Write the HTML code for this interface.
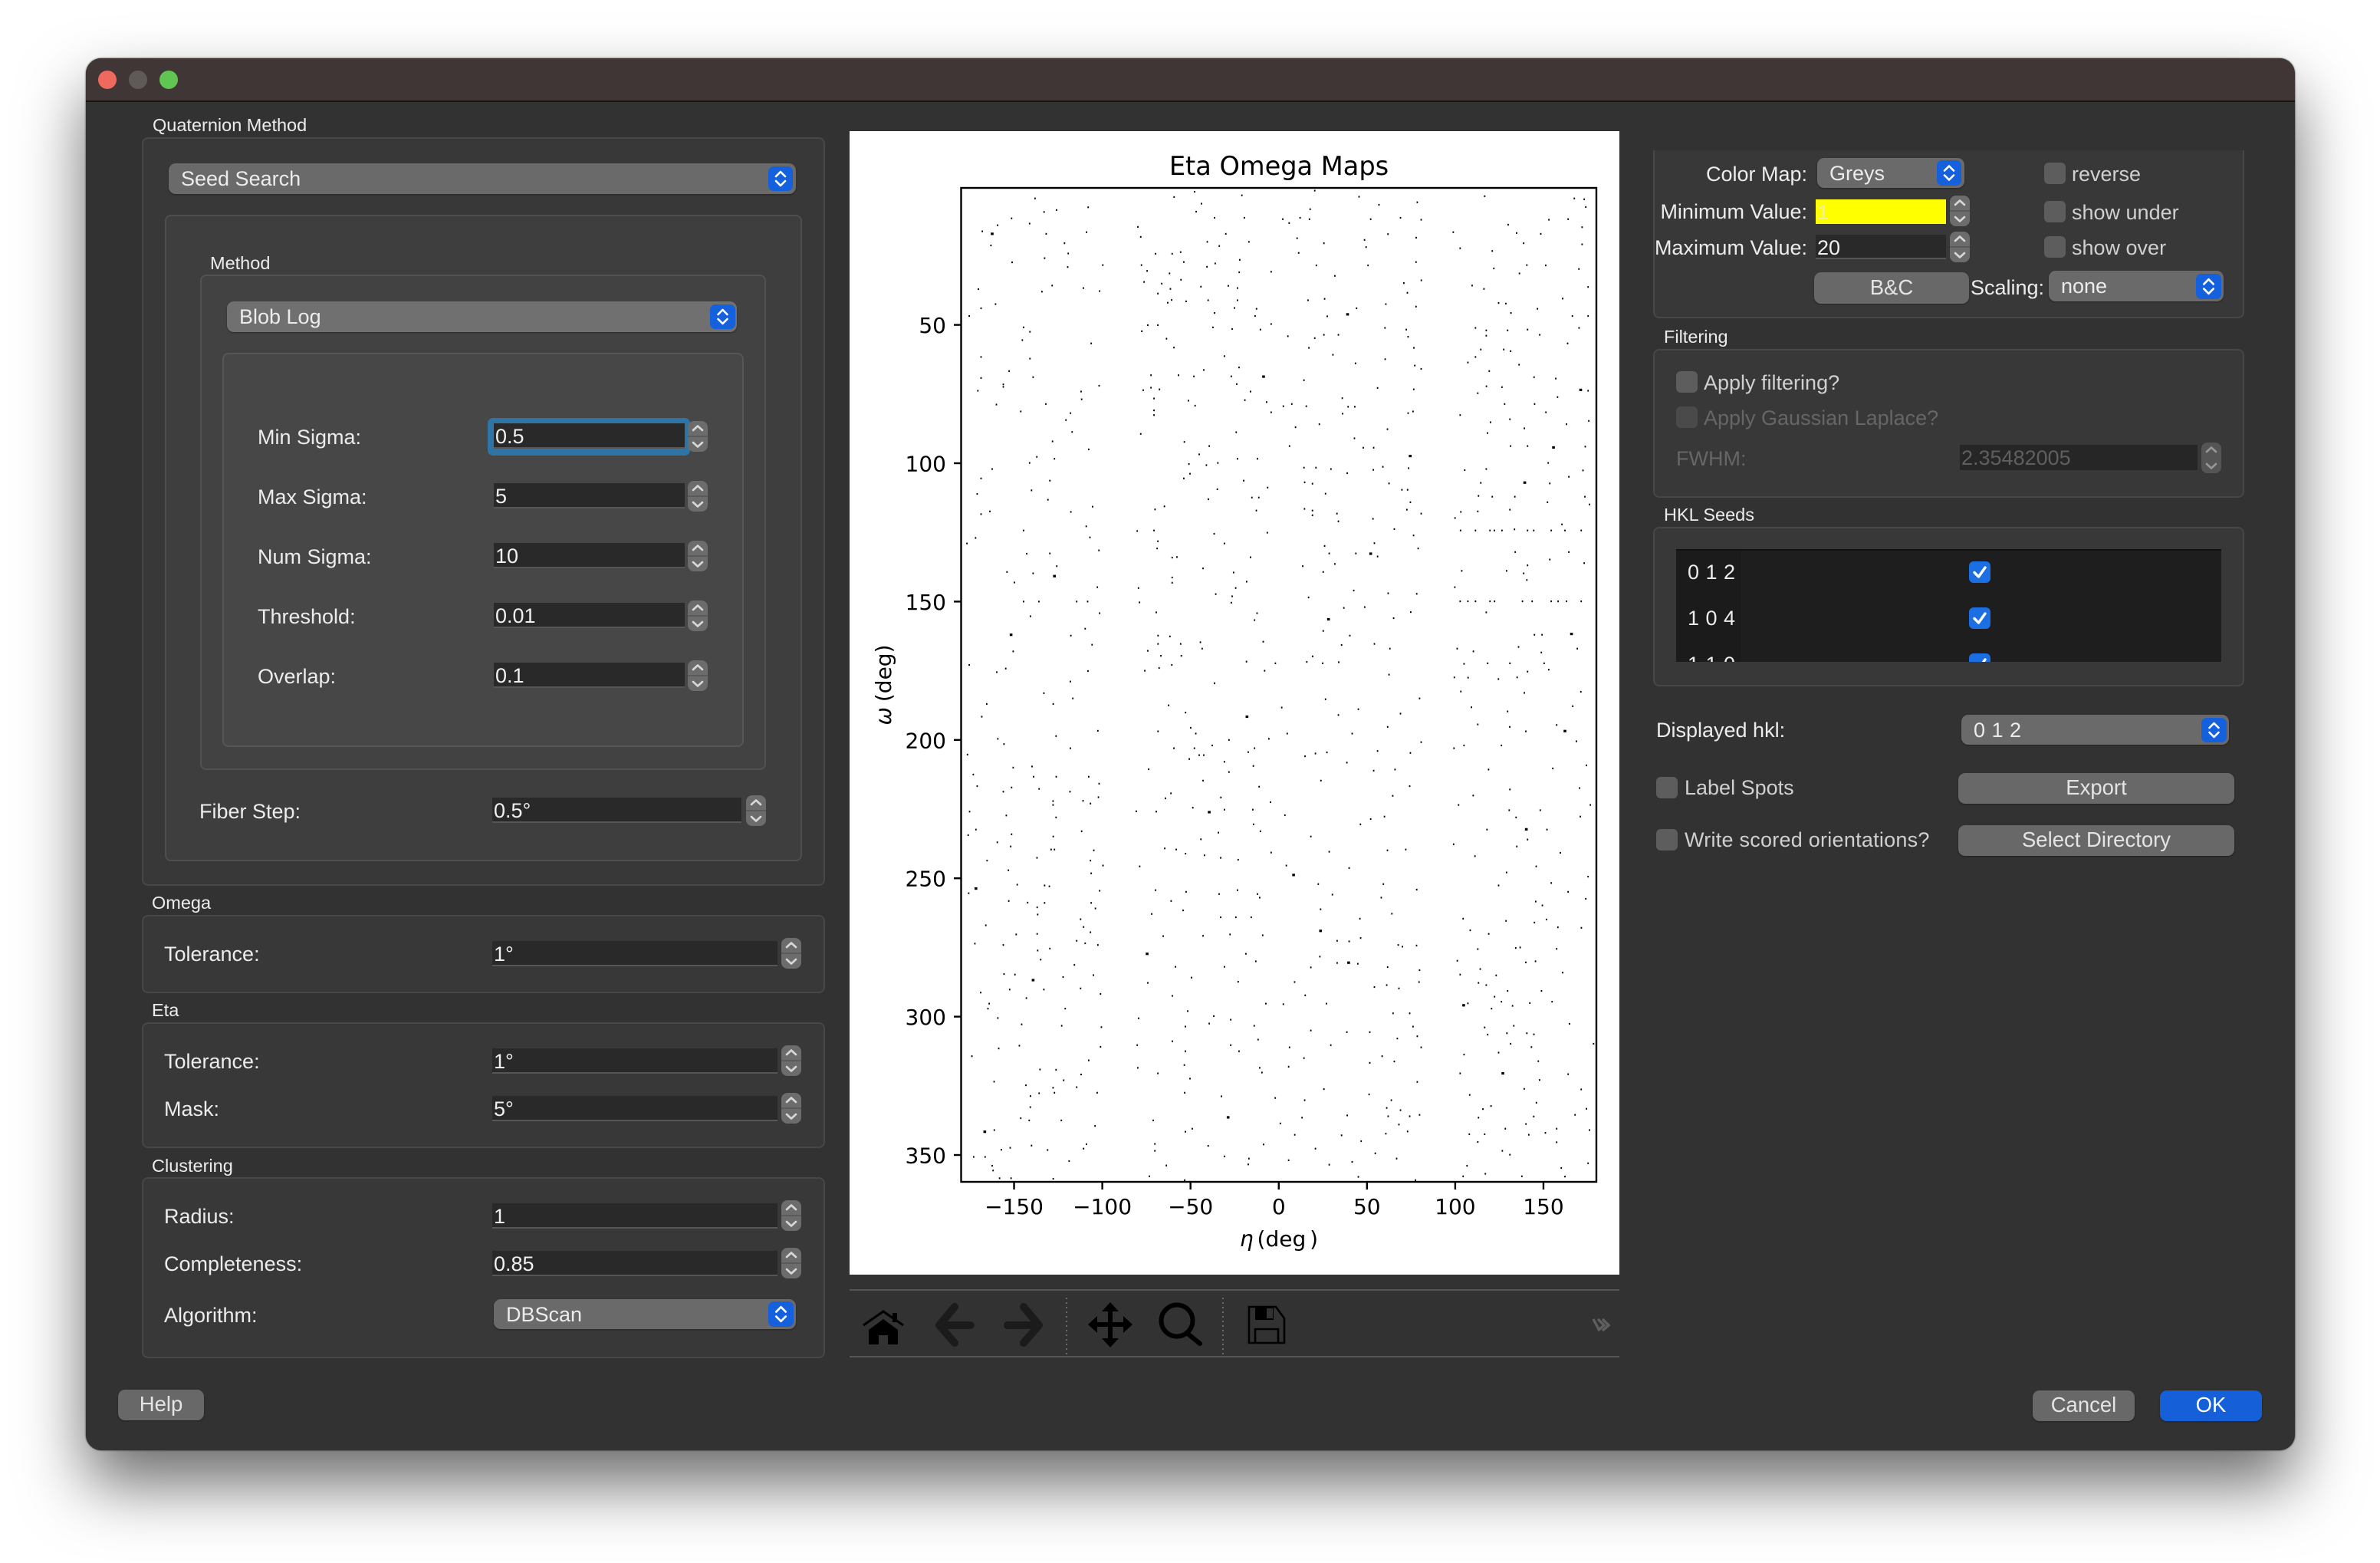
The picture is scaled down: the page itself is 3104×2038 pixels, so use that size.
<!DOCTYPE html>
<html lang="en">
<head>
<meta charset="utf-8">
<title>Eta Omega Maps dialog</title>
<style>
html,body{margin:0;padding:0;background:#fff;width:3104px;height:2038px;overflow:hidden}
body{font-family:"Liberation Sans",sans-serif;color:#ececec;position:relative}
#win{position:absolute;left:112px;top:76px;width:2881px;height:1815px;background:#323232;border-radius:20px;box-shadow:0 44px 85px rgba(0,0,0,.58),0 0 2px rgba(0,0,0,.8);overflow:hidden}
#root{position:absolute;left:0;top:0;width:3104px;height:2038px}
.a{position:absolute;box-sizing:border-box}
.lab{position:absolute;font-size:27px;line-height:34px;white-space:nowrap;transform:translateY(-50%);color:#ececec}
.r{transform:translate(-100%,-50%)}
.gt{position:absolute;font-size:23.5px;line-height:30px;white-space:nowrap;transform:translateY(-50%);color:#ececec}
.dim{color:#666}
.soft{color:#d0d0d0}
.box{position:absolute;box-sizing:border-box;border:2px solid #474747;border-radius:8px;background:#383838}
.b2{background:#3e3e3e;border-color:#4e4e4e}
.b3{background:#424242;border-color:#525252}
.b4{background:#474747;border-color:#565656}
.inp{position:absolute;box-sizing:border-box;background:#292929;border-bottom:2px solid #565656;font-size:27px;line-height:34px;padding-left:2px;color:#f0f0f0;overflow:hidden}
.spin{position:absolute;width:26px;height:40px;background:#6c6c6c;border-radius:8px}
.spin svg,.blue svg{position:absolute;left:0;top:0;width:100%;height:100%}
.combo{position:absolute;box-sizing:border-box;background:#6a6a6a;border-radius:9px;font-size:27px;color:#ececec;display:flex;align-items:center;box-shadow:0 1px 2px rgba(0,0,0,.35);padding-top:1px}
.blue{position:absolute;background:#1560dc;border-radius:7px}
.btn{position:absolute;box-sizing:border-box;background:#686868;border-radius:9px;font-size:27.5px;color:#e4e4e4;display:flex;align-items:center;justify-content:center;box-shadow:0 1px 2px rgba(0,0,0,.35);padding-bottom:2px}
.chk{position:absolute;width:28px;height:28px;background:#5d5d5d;border-radius:6px}
.chk.off{background:#4a4a4a}
.chk.on{background:#1b6fe2}
.chk.on svg{position:absolute;left:0;top:0;width:100%;height:100%}
</style>
</head>
<body>
<div id="win"></div>
<div id="root">
<svg width="0" height="0" style="position:absolute"><defs>
<symbol id="updn" viewBox="0 0 32 32"><path d="M10 13 L16 7 L22 13 M10 19 L16 25 L22 19" fill="none" stroke="#fff" stroke-width="2.6" stroke-linecap="round" stroke-linejoin="round"/></symbol>
<symbol id="sp" viewBox="0 0 26 40"><path d="M0 20H26" stroke="#555" stroke-width="1.5"/><path d="M7 12 L13 6.5 L19 12 M7 28 L13 33.5 L19 28" fill="none" stroke="#d8d8d8" stroke-width="2.6" stroke-linecap="round" stroke-linejoin="round"/></symbol>
<symbol id="tick" viewBox="0 0 28 28"><path d="M7 14.5 L12.5 20 L21 8" fill="none" stroke="#fff" stroke-width="3.4" stroke-linecap="round" stroke-linejoin="round"/></symbol>
</defs></svg>

<!-- title bar -->
<div class="a" style="left:112px;top:76px;width:2881px;height:57px;background:#403635;border-bottom:2px solid #151515;border-radius:20px 20px 0 0"></div>
<div class="a" style="left:128px;top:92px;width:24px;height:24px;border-radius:50%;background:#ee6a5e"></div>
<div class="a" style="left:168px;top:92px;width:24px;height:24px;border-radius:50%;background:#5f5a58"></div>
<div class="a" style="left:208px;top:92px;width:24px;height:24px;border-radius:50%;background:#61c554"></div>

<!-- quaternion method group -->
<div class="gt" style="left:199px;top:163px">Quaternion Method</div>
<div class="box" style="left:185px;top:179px;width:891px;height:976px"></div>
<div class="combo" style="left:220px;top:213px;width:818px;height:40px;padding-left:16px">Seed Search</div>
<div class="blue" style="left:1002px;top:217px;width:32px;height:32px"><svg><use href="#updn"/></svg></div>
<div class="box b2" style="left:215px;top:280px;width:831px;height:843px"></div>
<div class="gt" style="left:274px;top:343px">Method</div>
<div class="box b3" style="left:261px;top:358px;width:738px;height:646px"></div>
<div class="combo" style="left:296px;top:393px;width:665px;height:40px;padding-left:16px;background:#707070">Blob Log</div>
<div class="blue" style="left:926px;top:397px;width:33px;height:32px"><svg><use href="#updn"/></svg></div>
<div class="box b4" style="left:290px;top:460px;width:680px;height:514px"></div>

<div class="lab" style="left:336px;top:570px">Min Sigma:</div>
<div class="a" style="left:636px;top:545px;width:264px;height:49px;background:#2f74a4;border-radius:7px"></div>
<div class="inp" style="left:644px;top:552px;width:249px;height:33px">0.5</div>
<div class="spin" style="left:897px;top:549px"><svg><use href="#sp"/></svg></div>

<div class="lab" style="left:336px;top:648px">Max Sigma:</div>
<div class="inp" style="left:644px;top:630px;width:249px;height:33px">5</div>
<div class="spin" style="left:897px;top:627px"><svg><use href="#sp"/></svg></div>

<div class="lab" style="left:336px;top:726px">Num Sigma:</div>
<div class="inp" style="left:644px;top:708px;width:249px;height:33px">10</div>
<div class="spin" style="left:897px;top:705px"><svg><use href="#sp"/></svg></div>

<div class="lab" style="left:336px;top:804px">Threshold:</div>
<div class="inp" style="left:644px;top:786px;width:249px;height:33px">0.01</div>
<div class="spin" style="left:897px;top:783px"><svg><use href="#sp"/></svg></div>

<div class="lab" style="left:336px;top:882px">Overlap:</div>
<div class="inp" style="left:644px;top:864px;width:249px;height:33px">0.1</div>
<div class="spin" style="left:897px;top:861px"><svg><use href="#sp"/></svg></div>

<div class="lab" style="left:260px;top:1058px">Fiber Step:</div>
<div class="inp" style="left:642px;top:1040px;width:325px;height:33px">0.5°</div>
<div class="spin" style="left:973px;top:1037px"><svg><use href="#sp"/></svg></div>

<!-- omega -->
<div class="gt" style="left:198px;top:1177px">Omega</div>
<div class="box" style="left:185px;top:1193px;width:891px;height:102px"></div>
<div class="lab" style="left:214px;top:1244px">Tolerance:</div>
<div class="inp" style="left:642px;top:1227px;width:372px;height:33px">1°</div>
<div class="spin" style="left:1019px;top:1223px"><svg><use href="#sp"/></svg></div>

<!-- eta -->
<div class="gt" style="left:198px;top:1317px">Eta</div>
<div class="box" style="left:185px;top:1333px;width:891px;height:164px"></div>
<div class="lab" style="left:214px;top:1384px">Tolerance:</div>
<div class="inp" style="left:642px;top:1367px;width:372px;height:33px">1°</div>
<div class="spin" style="left:1019px;top:1363px"><svg><use href="#sp"/></svg></div>
<div class="lab" style="left:214px;top:1446px">Mask:</div>
<div class="inp" style="left:642px;top:1429px;width:372px;height:33px">5°</div>
<div class="spin" style="left:1019px;top:1425px"><svg><use href="#sp"/></svg></div>

<!-- clustering -->
<div class="gt" style="left:198px;top:1520px">Clustering</div>
<div class="box" style="left:185px;top:1535px;width:891px;height:236px"></div>
<div class="lab" style="left:214px;top:1586px">Radius:</div>
<div class="inp" style="left:642px;top:1569px;width:372px;height:33px">1</div>
<div class="spin" style="left:1019px;top:1565px"><svg><use href="#sp"/></svg></div>
<div class="lab" style="left:214px;top:1648px">Completeness:</div>
<div class="inp" style="left:642px;top:1631px;width:372px;height:33px">0.85</div>
<div class="spin" style="left:1019px;top:1627px"><svg><use href="#sp"/></svg></div>
<div class="lab" style="left:214px;top:1715px">Algorithm:</div>
<div class="combo" style="left:644px;top:1694px;width:394px;height:39px;padding-left:16px">DBScan</div>
<div class="blue" style="left:1002px;top:1697px;width:33px;height:33px"><svg><use href="#updn"/></svg></div>

<div class="btn" style="left:154px;top:1812px;width:112px;height:40px">Help</div>

<!-- chart -->
<svg id="chart" class="a" style="left:1108px;top:171px" width="1004" height="1491" viewBox="1108 171 1004 1491">
<rect x="1108" y="171" width="1004" height="1491" fill="#fff"/>
<text x="1668" y="228" text-anchor="middle" font-family="'DejaVu Sans',sans-serif" font-size="33.6" fill="#000">Eta Omega Maps</text>
<g id="spots"></g>
<g id="ticks"></g>
<rect x="1253.5" y="245" width="828.5" height="1296" fill="none" stroke="#000" stroke-width="2.4"/>
<text x="1668" y="1625" text-anchor="middle" word-spacing="-4" font-family="'DejaVu Sans',sans-serif" font-size="28" fill="#000"><tspan font-style="italic">η</tspan> (deg )</text>
<text transform="translate(1162,893) rotate(-90)" text-anchor="middle" word-spacing="-2" font-family="'DejaVu Sans',sans-serif" font-size="28" fill="#000"><tspan font-style="italic">ω</tspan> (deg)</text>
</svg>

<!-- toolbar -->
<svg class="a" style="left:1108px;top:1680px" width="1004" height="92" viewBox="1108 1680 1004 92">
<path d="M1108 1682H2112M1108 1769H2112" stroke="#555" stroke-width="2"/>
<path d="M1391 1692V1767M1595 1692V1767" stroke="#6a6a6a" stroke-width="2" stroke-dasharray="2 4"/>
<g><path d="M1126 1728 L1152 1710 L1178 1728" fill="none" stroke="#000" stroke-width="3"/><path d="M1133 1734 L1152 1720 L1171 1734 V1753 H1158 V1741 H1146 V1753 H1133Z M1164 1712 h6 v12 h-6z" fill="#000"/></g>
<path d="M1245 1704 L1225 1728 L1245 1751 M1227 1728 H1266" fill="none" stroke="#1b1b1b" stroke-width="10" stroke-linejoin="round" stroke-linecap="round"/>
<path d="M1335 1704 L1355 1728 L1335 1751 M1353 1728 H1314" fill="none" stroke="#1b1b1b" stroke-width="10" stroke-linejoin="round" stroke-linecap="round"/>
<g><path d="M1448 1706V1750M1427 1727H1469" stroke="#000" stroke-width="6"/><path d="M1448 1698l11 12h-22zM1448 1757l11-12h-22zM1419 1727l12-11v22zM1477 1727l-12-11v22z" fill="#000"/></g>
<g><circle cx="1535" cy="1722" r="20.5" fill="none" stroke="#000" stroke-width="6"/><path d="M1549 1739 L1565 1752" stroke="#000" stroke-width="6" stroke-linecap="round"/></g>
<g><path d="M1629 1704H1664L1675 1719V1751H1629Z M1637 1751V1733H1667V1751" fill="none" stroke="#000" stroke-width="2.6"/><path d="M1637 1704H1661V1721H1637Z" fill="#000"/><rect x="1652" y="1706" width="8" height="13" fill="#323232"/></g>
<path d="M2078 1720 L2086 1735 M2084 1720 L2092 1728 L2084 1735 M2090 1720 L2098 1728 L2090 1735" fill="none" stroke="#5f5f5f" stroke-width="3.4"/>
</svg>

<!-- right column: display options -->
<div class="a" style="left:2156px;top:196px;width:771px;height:219px;background:#383838;border:2px solid #474747;border-top:none;border-radius:0 0 8px 8px"></div>
<div class="lab r" style="left:2357px;top:227px">Color Map:</div>
<div class="combo soft" style="left:2370px;top:206px;width:192px;height:39px;padding-left:16px">Greys</div>
<div class="blue" style="left:2526px;top:209px;width:32px;height:33px"><svg><use href="#updn"/></svg></div>
<div class="chk" style="left:2666px;top:212px"></div>
<div class="lab soft" style="left:2702px;top:227px">reverse</div>

<div class="lab r" style="left:2357px;top:276px">Minimum Value:</div>
<div class="inp" style="left:2368px;top:260px;width:170px;height:32px;background:#ff0;border:none;color:#f0f0a0">1</div>
<div class="spin" style="left:2543px;top:255px"><svg><use href="#sp"/></svg></div>
<div class="chk" style="left:2666px;top:262px"></div>
<div class="lab soft" style="left:2702px;top:277px">show under</div>

<div class="lab r" style="left:2357px;top:323px">Maximum Value:</div>
<div class="inp" style="left:2368px;top:306px;width:170px;height:32px">20</div>
<div class="spin" style="left:2543px;top:302px"><svg><use href="#sp"/></svg></div>
<div class="chk" style="left:2666px;top:308px"></div>
<div class="lab soft" style="left:2702px;top:323px">show over</div>

<div class="btn" style="left:2366px;top:355px;width:202px;height:41px">B&amp;C</div>
<div class="lab" style="left:2570px;top:375px">Scaling:</div>
<div class="combo" style="left:2672px;top:353px;width:228px;height:40px;padding-left:16px">none</div>
<div class="blue" style="left:2864px;top:357px;width:33px;height:33px"><svg><use href="#updn"/></svg></div>

<!-- filtering -->
<div class="gt" style="left:2170px;top:439px">Filtering</div>
<div class="box" style="left:2156px;top:455px;width:771px;height:194px"></div>
<div class="chk" style="left:2186px;top:484px"></div>
<div class="lab soft" style="left:2222px;top:499px">Apply filtering?</div>
<div class="chk off" style="left:2186px;top:530px"></div>
<div class="lab dim" style="left:2222px;top:545px">Apply Gaussian Laplace?</div>
<div class="lab dim" style="left:2186px;top:598px">FWHM:</div>
<div class="inp" style="left:2556px;top:580px;width:310px;height:33px;color:#5f5f5f;border-bottom:none;background:#262626">2.35482005</div>
<div class="spin" style="left:2871px;top:577px;background:#555"><svg style="opacity:.5"><use href="#sp"/></svg></div>

<!-- hkl seeds -->
<div class="gt" style="left:2170px;top:671px">HKL Seeds</div>
<div class="box" style="left:2156px;top:687px;width:771px;height:208px"></div>
<div class="a" style="left:2186px;top:716px;width:711px;height:147px;background:#1e1e1e;border-top:2px solid #111;overflow:hidden">
<div class="a" style="left:0;top:0;width:85px;height:147px;background:#1b1b1b"></div>
<div class="lab" style="left:15px;top:28px;letter-spacing:.5px">0 1 2</div>
<div class="lab" style="left:15px;top:88px;letter-spacing:.5px">1 0 4</div>
<div class="lab" style="left:15px;top:148px;letter-spacing:.5px">1 1 0</div>
<div class="chk on" style="left:382px;top:14px"><svg><use href="#tick"/></svg></div>
<div class="chk on" style="left:382px;top:74px"><svg><use href="#tick"/></svg></div>
<div class="chk on" style="left:382px;top:134px"><svg><use href="#tick"/></svg></div>
</div>

<div class="lab" style="left:2160px;top:952px">Displayed hkl:</div>
<div class="combo soft" style="left:2558px;top:932px;width:349px;height:39px;padding-left:16px;letter-spacing:.5px">0 1 2</div>
<div class="blue" style="left:2871px;top:936px;width:33px;height:32px"><svg><use href="#updn"/></svg></div>

<div class="chk" style="left:2160px;top:1013px"></div>
<div class="lab soft" style="left:2197px;top:1027px">Label Spots</div>
<div class="btn" style="left:2554px;top:1008px;width:360px;height:40px">Export</div>
<div class="chk" style="left:2160px;top:1081px"></div>
<div class="lab soft" style="left:2197px;top:1095px;letter-spacing:.25px">Write scored orientations?</div>
<div class="btn" style="left:2554px;top:1076px;width:360px;height:40px">Select Directory</div>

<div class="btn" style="left:2651px;top:1813px;width:133px;height:40px">Cancel</div>
<div class="btn" style="left:2817px;top:1813px;width:133px;height:40px;background:#1560d8;color:#fff">OK</div>
</div>

<script>
const xTicks = [-150, -100, -50, 0, 50, 100, 150];
const yTicks = [50, 100, 150, 200, 250, 300, 350];
const etaDeg = [
-138.1,-151.4,-162.4,-159.3,-168,-163.1,-132.7,-108.9,-133,-125.9,-108,-141.2,-131.8,-121.4,-119.3,-119.6,-99.7,-151.1,-168.7,-160.5,-175.4,-170.2,-128.4,-134.2,-110.7,-101.5,-141,-144.6,-145.3,-106.3,-168.7,-141,-152.8,-168.7,-139.2,-156.1,-156.1,-170.5,-160,-146.2,-132,-112,-111.7,-118,-120.6,-101.8,-117.1,-107.7,-128.2,-137.1,-141.2,-127.1,-168.7,-162.4,-129.7,-140.1,-170.9,-130.8,-117.8,-105.5,-168.7,-163.7,-144.6,-171.8,-176.7,-109.1,-107,-101.9,-129.7,-142.8,-125.8,-127.1,-139.2,-154,-149.8,-102.8,-144.6,-135.9,-114.5,-108.3,-101.5,-140.7,-151.7,-109.7,-117.8,-105.8,-150.5,-108.1,-154.7,-159.8,-175.4,-118.1,
-47.7,-43.8,-46.8,-36.4,-19.5,-20.9,-59.3,-79.8,-78.2,-30,-16.9,-40.5,-33.7,-69.8,-55.6,-60.4,-53.8,-77.8,-74.6,-61.9,-40.7,-36,-22.1,-22.4,-4.3,-55.4,-76.3,-66.3,-61.4,-68.5,-60.7,-62.9,-52.5,-44.1,-40,-28.6,-23.4,-23.4,-25.1,-12.6,-36.4,-13.4,-37.3,-26.4,-10.4,-4.3,-74.2,-68.5,-77.6,-63.6,-59.4,-30.8,-42.5,-22.5,-8.6,-26.9,-72.4,-56.8,-48.1,-72.4,-76.8,-67.6,-23.8,-16,-70.7,-47.4,-51.2,-70.7,-70.7,-6.9,-4.3,-19.2,-78.2,-24.1,-53.5,-39.4,-45.1,-41,-23.4,-12.1,-34.5,-50.9,-50.3,-53.8,-19.9,-34.8,-6.3,-39.9,-15.2,-11.3,-12.7,-70.1,-64.8,-80.2,-70.7,-68.5,-68.9,-36.6,-30.8,-6.5,-60.4,-57.7,-16,-42.9,-25.6,-60.4,-60.4,-18.2,-79.5,-35.7,-24.4,-26.4,-26.9,-78.9,-69.4,-12.3,-13.7,-61.7,-68.4,-68.4,-44.4,-43.4,-55.6,-74.2,-66.8,-55.2,-8.8,-60.6,-67.8,-75.9,-18.3,-8,-1.9,-36.4,
20.4,45.5,56.8,78.5,17.8,12.1,17.4,2.3,5.9,52.1,69,80.7,10.4,25.6,48.6,49.5,61.9,77.9,11.3,21.3,50.6,31.8,77.8,80.8,70.9,72.9,16.6,26,44.1,39,27.5,77.8,60.7,72.3,73.3,60.2,5.2,20.4,25.6,33.8,17.1,30.7,43.5,60.3,76.6,77.1,80.7,14.3,36,56,76.5,2.6,7.4,15.6,39.3,43.1,73.3,76.1,9.5,23,36.2,61.6,42.9,6.1,47.9,53.8,74.5,14.3,21.1,29.6,38.8,53.6,59,73.6,14.7,19.1,62.5,69.8,73,26.5,74.6,19.1,19.1,14.6,53.4,33,33.8,72.6,80.7,65.5,76.4,54.2,26,28.6,43.7,52.1,56,79,31.8,13.6,25.2,42.5,62,78.2,16.9,36.9,48.7,74.8,28.2,65.1,40.3,25.2,35.6,54.2,63,19.2,24.9,34,15.9,62.5,
116.7,167.5,173.1,174,153.1,164,130,98.9,134.8,148.5,171.9,138.8,171.9,102.8,121,140.6,151.3,170.1,121.9,136.4,109.6,116.3,175.3,160.9,124.6,128.7,146.6,131.6,166.4,175.3,111.5,117.6,117.6,129.7,141,147.9,170.2,114.5,127.5,111.5,131.4,136.2,163.7,119.3,107.2,157,144.7,117.7,126.5,171.1,175.3,112.8,128,145,158,102.8,131,120,151.4,175.7,139.2,163.1,118.3,131.4,141,155.7,173.7,152.7,117.6,105.4,164.4,172.4,114.5,139.4,153.6,121,113.2,133.8,173.5,112.8,131,152.3,103.2,176.1,99.9,111.5,103,119.7,122.2,126.5,133.6,141,144.5,154.4,162.2,171.4,160.5,134,164.4,141,173.1,153.6,138.8,140.6,129.1,103.7,99.8,102.8,107.2,111.5,119.7,122.3,138.1,143.6,154.4,158.3,163.1,171.4,117.6,144.9,149.2,165.9,101.1,110.3,135.9,169.2,148.8,118.4,105,131,150.4,99.5,124.5,141,153,107.3,135.1,
-133.1,-116.7,-165.5,-168.3,-127.8,-102.5,-159.2,-126.2,-155.7,-118.1,-176.4,-150.5,-173.1,-139.8,-138.9,-126.1,-107.7,-101.8,-170.9,-151.4,-135.8,-156.1,-118.3,-127.9,-127.9,-106.7,-102.2,-110.9,-154.4,-126.2,-175.2,-171.6,-176,-159.5,-151.9,-151.4,-111.7,-127.8,-129,-127.1,-137,-104.8,-106.7,-106.3,-99.6,-153.2,-165.3,-148.2,-171.6,-175.7,-132.7,-130,-101.5,-153,-142.3,-132.7,-106.3,-136.9,-103.9,-136.6,-166,-112.3,-110.6,-106.7,-148.8,-136.9,-172.2,-156.1,-114.5,-129.7,-136.6,-109.7,-102.5,-134.9,-115.8,-155.7,-149.5,-139.2,-122.2,-105,-133.1,-152.5,-112.3,-168.9,-101,-143,-164.1,-164.8,-159.2,-121,-145.7,-123,-100.5,-147,-101,-173.9,-158.7,-107.7,-135.3,-126.2,-112,-121.9,-161.3,-143.3,-127.9,-114.5,-135.8,-127.1,-140.7,-102.9,-140.8,-146.2,-123.2,-141.4,-104.1,-166.6,-161.2,-140.1,-152.2,-157.2,-131,-110.6,-109,-172.9,-166.4,-118.8,-162.4,-161.9,-151.7,-158.2,-127.8,
-62.4,-52.8,-18,-68.4,-47,-49.9,-59.4,-47.8,-37.7,-28.2,-45.1,-42.5,-50.7,-30.8,-5.6,-17.3,-13.7,-73.7,-28.2,-14.4,-42.9,-11.1,-61.1,-64.2,-32.8,-4.7,-39.4,-30.8,-48.7,-14.7,-69.4,-80.7,-14.3,-10.4,-44.1,-34.2,-64.6,-58.1,-52.8,-32.9,-4.3,-42.1,-78.8,-23,-52.5,-33.8,-69.8,-23.4,-12.1,-10.8,-61,-72,-54.2,-32.9,-24.3,-15.6,-65.5,-42.9,-27.6,-9.1,-74.6,-18.6,-58.5,-30.8,-13,-49.4,-23,-74.2,-60.3,-7.3,-51.6,-79.4,-36.8,-39.4,-13.9,-27.2,-52.9,-80.2,-60.3,-27.2,-22.5,-52.9,-11.7,-53.5,-68.5,-10.8,-9.5,-79.9,-50.3,-53.3,-32.5,-2,-28.7,-71.1,-49,-52.9,-70.2,-70.2,-8.6,-40,-30.8,-16.9,-17.3,-63.7,-73.3,-53.3,
79.8,45.1,26.5,33.8,69,1.7,4.8,41.6,61.7,56,74.6,80.7,20.8,27.3,14.9,38.6,65.9,53.8,23.9,64.6,74.2,3.5,59.9,52.1,46.3,18.2,28.6,61.6,72,4.3,8.4,39.9,22.4,59.3,78.2,30.4,58.1,23.7,64.1,46,23.7,39.9,33.1,46.4,78.1,67.7,70.1,23.3,39.6,33.1,18.2,44.8,79.8,61.7,9,61.2,68.1,54.2,79.5,15,2.6,27,64.8,74.2,38.6,51.6,18.2,76.1,67.2,78.5,29.5,6.1,80.7,14.3,5.6,65.5,51.6,58.6,78.5,25.6,51.2,14.7,63.8,61.2,69,38.8,62,74.2,79.8,13.2,0.9,68.1,9.1,35.6,60.7,73,46.7,20.8,5.6,54.7,66.8,28.6,45.1,41.6,77.5,
103.2,129.7,171.2,139.2,109.2,166.6,112.8,157.5,162.2,105,126.2,99.3,168.7,130.9,140,155.3,118.9,174.4,131,170.5,110.2,101.9,148.2,130.6,134.5,170.9,176.6,118,140.3,152,141,134.9,159.6,99.1,111.2,129.1,145.9,175.3,154.4,164,174,124.6,149.4,145.6,104.5,128.8,144.9,151.7,119,108.5,158.2,171.5,112.8,136.8,134.3,157.5,101.2,140,145.5,114.2,102.8,123.2,160.9,117.6,113.2,129.7,148.9,122.3,142.3,104.8,107.2,126.2,154.9,120.6,132.5,164.8,133.2,116.7,118.4,129.3,140.6,144.6,131.4,178.4,105,124.6,143.2,147.1,102.8,127,164,147.8,108.2,139.1,171.4,120.3,115.7,146,174.4,167.9,144.5,113.2,140.1,157.5,128.4,176.1,141.7,151.1,108,116.7,157.5,112.8,126.7,131,106.7,175.3,160.1,104.5,137.8,117.1,162.2
];
const omegaDeg = [
4.3,11.5,17.1,14,16.2,21.3,25.9,16.5,9.2,8.5,7.5,13.4,17.1,20.5,24.2,29.1,28.4,27.4,44,42.5,46.8,37.1,35.8,38,36.7,37.8,52.5,50.9,55.5,56.7,61.6,62.2,66.7,69.2,68.9,71.5,72.4,73.8,78.8,81.3,78.6,74.1,76.9,81.9,84.4,72,88.7,95,92.1,97.7,99.9,98.4,105.5,102.1,106.3,109.8,111.1,113.2,117.6,115.7,118.4,117.4,124.3,127,129,122.8,126.8,131.5,132.6,132.7,137.2,140.8,139.8,139.3,143.1,144.8,150,150,150,150,154.2,155.3,162,159.8,162.3,165.6,168,175.1,174.2,175.5,172.9,178.9,
1.9,6.2,9.1,11.3,11.3,3.2,3.8,14.6,18.2,17.1,20,20,21.5,24.3,23.7,24.3,27.3,28.4,30.5,31.4,29,27.8,26.5,31,30.8,33.7,34.5,35.1,37,38.7,41,42,41.5,36.2,41.1,35.9,36.7,41.1,43.9,44.2,45.7,46.8,50.9,51.5,51.7,49.7,50.1,50.1,52.3,55,58.2,61.3,66.3,65.4,68.7,68.6,68.2,68.2,68.6,72.7,73.6,73.3,71.4,74.1,76.6,79.2,77.4,80.9,82.6,77.9,81.6,77.2,89.4,88.8,92.3,93.8,96.8,100.7,98.4,98.4,99.9,100.3,103.8,105.5,106.3,109.4,108.8,113,112.4,112.4,117.1,116.7,115.6,124.5,124.3,128.2,130.8,125.5,129,125.1,134.1,133.9,134,138,139.5,141.3,143.2,142.8,145.1,147.3,145.1,148.1,150.4,150.3,153.9,154.2,156.7,162.6,162.3,165.3,164.7,167,165.3,167.8,169.6,169.6,164.5,172.9,174,175,171.7,175,172.3,179.5,
1.5,3.7,6.6,5.7,8.2,11.3,11.8,11.8,13.2,11.8,11.3,12,18.7,20.5,19.3,21.9,17.2,18.5,24,28.5,28.5,32.3,27.3,33.9,34.9,38.4,41.1,40.6,44,46.2,46.9,43.4,42.5,51.7,54.3,51.1,54.1,54.8,53.6,53.6,58.3,60.8,63.9,62.4,58.3,64.7,65.9,70,76.5,72.8,73.3,79.4,78.6,79.4,79.6,79.6,81.9,81.3,87,85.9,82.1,87.7,91,93.8,94.4,94.4,97.4,101.6,101.6,102.1,103.6,102.4,101.3,101.8,106.9,107.4,107.3,109.6,109.6,111,114.1,117.1,118.8,116.5,120.1,118.2,121,116.8,118.2,123.8,126.1,128.9,129.9,132.6,132.6,132.7,133.7,130.8,136.4,137.2,139.3,146,147,147.2,148.5,152.3,152,153.8,156.4,156,162.3,160.6,165.7,165.3,167,169.8,172.3,171.9,171.8,176.4,
3.5,4.3,4.6,7.4,12,11.8,13.8,16.5,16.8,17.1,14.7,20.5,20.9,22.3,23.3,28.4,28.5,29.8,29.6,31.4,35.8,37,36.3,40.5,42.1,42.3,44.2,45.7,46.8,46.8,51.1,52,53.9,52,51.7,53.6,51.1,58.9,58.9,61.6,59.5,64.4,56.7,66.7,63.6,69.4,68.9,72.2,72.5,73.5,73.8,74.7,78.6,78.6,76.1,82.6,84.1,85.2,81.6,84.7,87.4,85.9,89.1,93.8,93.8,94.3,94,99.9,102.1,102.5,104.9,102.6,107.1,107,107.3,112.1,111.8,112.1,112.1,117.4,116.8,114.1,117.6,114.9,119.8,124.3,124.3,124.3,124.3,124.3,123.9,124.3,124.3,124.3,124.3,124.3,122.1,132.1,132.1,136.9,136.1,134.8,139.8,142.2,138.9,138.9,144.8,149.9,149.9,149.9,149.9,149.9,149.9,149.9,149.9,149.9,149.9,149.9,153.9,162,162,161.7,167,168,166.4,167,168.4,172.3,172.5,172.3,172.3,177.4,178,175.3,174.6,177.5,177.4,
183.1,185,187,191.6,187,196.7,199.6,198.6,201.5,203,205.3,210,212.5,209.6,213.3,213.3,213.3,215.8,216.7,217.2,217.7,218.7,218.7,222.1,223.5,223,220.7,222,227.3,228,225.9,232.4,234.4,237,238.5,234.1,233,234.9,239.6,239.6,242.6,239.9,243.6,248.2,245.4,247.1,243.6,252.3,253.7,255.4,252.6,252.9,254.5,258.2,258.8,258.9,258.9,260.5,260.9,263.1,267,264.8,267.6,269.5,270.3,270.1,273.6,274.1,272.6,275.4,276.1,273.5,274.1,279.4,281.3,284.6,284.8,286.8,285.7,285,290.2,290.2,289.8,291.3,291.8,293.3,295.3,297.1,300.5,297.1,302.8,303.3,303.8,310.5,310.9,314.3,311.5,315.8,319.1,319.2,320.9,323,323.5,324.8,325.7,325.5,327.7,327.5,328.7,327.5,332.7,336.7,337.5,337.5,339.5,341.6,341,346.6,347.4,348.1,348.2,347.7,346.1,350.7,350.7,352.2,353.9,355.6,358.4,358.4,358.6,
187.5,190.1,191.6,196.9,197.7,195.6,203,203,202,200,205.5,205.5,206.9,207.9,199.6,204.4,203,210.6,211.6,209.4,214.7,216.9,219.3,221.1,220.8,222.5,226.1,225.2,224.5,225.2,225.9,225.8,230.5,233,235.9,233.5,239.2,239.6,241.1,242.6,240.7,241.7,245.7,243.3,254.9,255.7,254.3,254.3,255.7,257,258.2,262.9,261.6,264.1,264.1,264.1,270.9,270.8,270.3,270.6,277.3,277.3,282,282,280,285.9,287.4,287.8,292.5,295.3,298,300.6,299.8,302.5,303.3,301.1,303.6,310.3,308.9,310.3,312.5,312.5,308.3,317.5,320.5,318.5,320.2,318.5,322.4,327.5,328.8,329.4,336.4,337.5,340.5,341.6,346,348.5,346.2,346.7,350.5,351.3,353.4,353.8,357.7,359.1,
185,188.9,185.3,191,190.5,188.3,197.7,197.7,195.3,204,204.7,200.8,204.9,204.5,205.9,208.2,210.7,211.1,214.7,220.2,216.7,227.2,227.7,228.6,230.5,234.9,240.4,239.9,239.6,245.4,248.8,246.3,252.1,252.1,254.1,255.9,257,261.2,262.8,264.6,269,272.8,272.6,271.6,274.3,274.1,274.7,278.3,280.5,280.6,282.2,280.9,283.2,282.1,287.5,288.6,289.8,289.3,287.5,292.3,295.5,295.3,298.8,298.8,305.6,305.6,305,303.6,307.9,307.1,310.3,311.1,311.1,315,318.1,316.2,316.7,314.3,323.6,326.2,328.1,330.2,330.2,333,333.8,335.7,336,336,335.5,336.5,338.6,339,342.7,342.9,342.3,341.5,345,347.7,351.9,349.4,351.3,353.5,357.9,352.5,359.1,
182.5,189.7,182.6,183,188.2,187.8,194.4,194.6,196.8,202,202,203,200.5,195.3,196.9,210.3,210.7,209.2,217.9,217.4,220.1,223.5,225.4,225.4,228,227.7,223.5,232.4,232.3,232.4,236,238.5,240.8,237.7,242,247.9,245.7,249.4,251.7,254.9,257.4,252.6,259.8,258.4,264.6,265.4,266,264.9,270.1,268.8,267.7,267.9,275.6,275,275.2,275.5,279.8,280.4,280,282.8,284.8,285.1,284.1,288.6,287.8,290.7,290.7,292.8,295.1,295.9,295.2,294.6,294.6,297.1,296.1,302.6,303.3,303.9,306.5,306,306,306.4,309.8,309.8,313.7,313,311,316.1,320.5,320.5,320.8,322.9,328.3,326.1,326.3,332.3,333.4,331.1,333.3,335.5,336.1,336.5,338.8,340.5,340.5,341,342.7,342,342.5,342.5,345.4,345.3,348.5,349.9,353.9,353,354.7,357.7,357.7,356.8,357.8
];
const brightEta = [74.5,-8.6,39,-162.4,52.1,28.2,-127.1,-151.7,-74.6,-39.4,-28.7,-139.2,-166.6,171.1,155.7,139.4,165.9,127,104.8,140.3,162.2,39.6,23.7,8.4,-18,-171.6];
const brightOmega = [97.4,68.7,46.2,17.1,132.7,156.4,140.8,162,277.3,226.1,336.4,286.8,341.6,73.5,94.3,107,161.7,320.5,295.9,232.3,196.8,280.5,269,248.8,191.6,253.7];

const SVGNS = 'http://www.w3.org/2000/svg';
function xScale(eta) { return 1253.5 + (eta + 180) * (828.5 / 360); }
function yScale(omega) { return 243.2 + omega * 3.608; }
const spotLayer = document.getElementById('spots');
const tickLayer = document.getElementById('ticks');

function drawSpot(eta, omega, w, h) {
  const el = document.createElementNS(SVGNS, 'rect');
  el.setAttribute('x', xScale(eta) - w / 2);
  el.setAttribute('y', yScale(omega) - h / 2);
  el.setAttribute('width', w);
  el.setAttribute('height', h);
  el.setAttribute('fill', '#000');
  
  
  spotLayer.appendChild(el);
}
const spotCount = Math.min(etaDeg.length, omegaDeg.length);
for (let i = 0; i < spotCount; i++) drawSpot(etaDeg[i], omegaDeg[i], 1.8, 2.2);
for (let i = 0; i < brightEta.length; i++) drawSpot(brightEta[i], brightOmega[i], 3.6, 3.2);

function tickLabel(v) { return String(v).replace('-', '\u2212'); }
function addTick(x1, y1, x2, y2, tx, ty, anchor, label, kind) {
  const line = document.createElementNS(SVGNS, 'line');
  line.setAttribute('x1', x1);
  line.setAttribute('y1', y1);
  line.setAttribute('x2', x2);
  line.setAttribute('y2', y2);
  line.setAttribute('stroke', '#000');
  line.setAttribute('stroke-width', '2.4');
  
  
  tickLayer.appendChild(line);
  const t = document.createElementNS(SVGNS, 'text');
  t.setAttribute('x', tx);
  t.setAttribute('y', ty);
  t.setAttribute('text-anchor', anchor);
  t.setAttribute('font-family', "'DejaVu Sans',sans-serif");
  t.setAttribute('font-size', '28');
  t.setAttribute('fill', '#000');
  
  
  t.textContent = tickLabel(label);
  tickLayer.appendChild(t);
}
xTicks.forEach(function (v) {
  const x = xScale(v);
  addTick(x, 1541, x, 1551, x, 1583, 'middle', v, 'x-axis');
});
yTicks.forEach(function (v) {
  const y = yScale(v);
  addTick(1253.5, y, 1244, y, 1234, y + 10.5, 'end', v, 'y-axis');
});
</script>
</body>
</html>
